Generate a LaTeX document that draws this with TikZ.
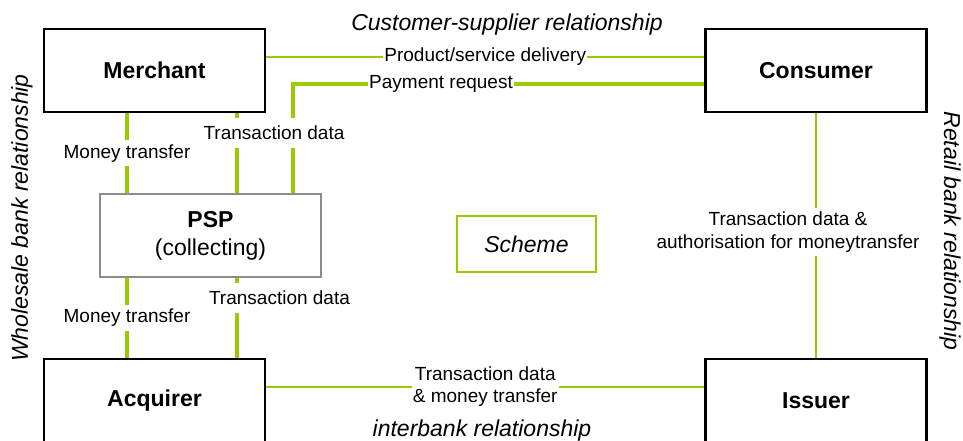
\documentclass[tikz,border=0pt]{standalone}
\usepackage{fontspec}
\setmainfont{Liberation Sans}
\definecolor{linkgreen}{RGB}{153,204,0}

\begin{document}
\begin{tikzpicture}[x = 1pt, y = 1pt,
    party/.style = {draw, line width = 2.5pt, minimum width = 221pt, minimum height = 83pt, font = \fontsize{23}{27}\selectfont\bfseries},
    provider/.style = {draw = black!45, line width = 2pt, minimum width = 221pt, minimum height = 83pt, align = center, font = \fontsize{23}{28}\selectfont},
    schemebox/.style = {draw = linkgreen, line width = 1.8pt, minimum width = 139pt, minimum height = 56pt, font = \fontsize{23}{27}\selectfont\itshape},
    relation/.style = {font = \fontsize{23}{27}\selectfont\itshape},
    description/.style = {fill = white, inner xsep = 1pt, inner ysep = 4pt, align = center, font = \fontsize{19}{22.5}\selectfont},
    thinlink/.style = {draw = linkgreen, line width = 2pt},
    thicklink/.style = {draw = linkgreen, line width = 4pt}]
  \useasboundingbox (0, 0) rectangle (963, 441);

  % parties
  \node[party] (merchant) at (154.5, 370.5) {Merchant};
  \node[party] (consumer) at (816, 370.5) {Consumer};
  \node[provider] (psp) at (210.5, 205.5) {\textbf{PSP}\\(collecting)};
  \node[party, minimum height = 84pt] (acquirer) at (154.5, 40) {Acquirer};
  \node[party, minimum height = 84pt] (issuer) at (816, 40) {Issuer};
  \node[schemebox] (scheme) at (526.5, 197) {Scheme};

  % relationships
  \node[relation] (customer) at (507, 416) {Customer-supplier relationship};
  \node[relation] (interbank) at (482, 10) {interbank relationship};
  \node[relation, rotate = 90] (wholesale) at (22, 223) {Wholesale bank relationship};
  \node[relation, rotate = -90] (retail) at (950, 210) {Retail bank relationship};

  % payment request first, the data label below covers it
  \draw[thicklink] ([yshift = -13.5pt]consumer.west) -| ([xshift = 82.5pt]psp.north)
      node[description, pos = 0.32] {Payment request};
  \draw[thinlink] ([yshift = 13.8pt]merchant.east) -- node[description] {Product/service delivery}
      ([yshift = 13.8pt]consumer.west);

  % merchant -- psp
  \draw[thicklink] ([xshift = -27.5pt]merchant.south) -- node[description] {Money transfer}
      ([xshift = -27.5pt]merchant.south |- psp.north);
  \draw[thicklink] ([xshift = 82.5pt]merchant.south) -- node[description, inner ysep = 8pt, pos = 0.25, xshift = 37pt] {Transaction data}
      ([xshift = 82.5pt]merchant.south |- psp.north);

  % psp -- acquirer
  \draw[thicklink] ([xshift = -83.5pt]psp.south) -- node[description] {Money transfer}
      ([xshift = -83.5pt]psp.south |- acquirer.north);
  \draw[thicklink] ([xshift = 26.5pt]psp.south) -- node[description, inner ysep = 8pt, pos = 0.25, xshift = 42.5pt] {Transaction data}
      ([xshift = 26.5pt]psp.south |- acquirer.north);

  % banks
  \draw[thinlink] ([yshift = 14.3pt]acquirer.east) -- node[description, inner ysep = 1pt] {Transaction data\\\& money transfer}
      ([yshift = 14.3pt]issuer.west);
  \draw[thinlink] (consumer.south) -- node[description, xshift = -28pt, yshift = 3.5pt] {Transaction data \&\\authorisation for moneytransfer}
      (issuer.north);
\end{tikzpicture}
\end{document}
